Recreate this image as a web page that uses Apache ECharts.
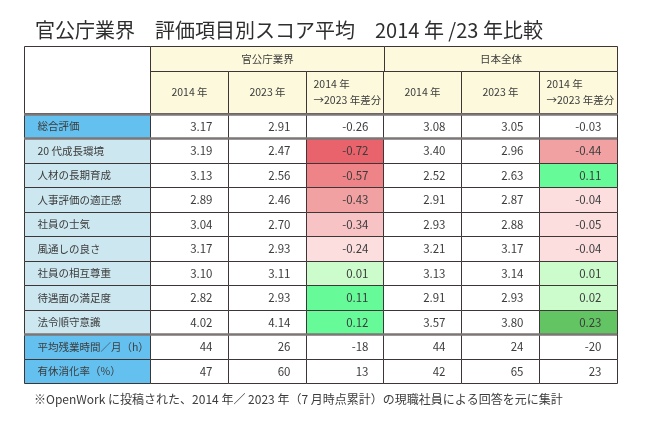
<!DOCTYPE html>
<html>
<head>
<meta charset="utf-8">
<script src="https://cdn.jsdelivr.net/npm/echarts@6/dist/echarts.min.js"></script>
<style>
  html, body { margin: 0; padding: 0; background: #fff; }
  #scoreTable { width: 650px; height: 429px; }
</style>
</head>
<body>
<div id="scoreTable"></div>
<script>
const groups = ['官公庁業界', '日本全体'];
const subHeads = ['2014 年', '2023 年', '2014 年\n→2023 年差分', '2014 年', '2023 年', '2014 年\n→2023 年差分'];
const rows = ['総合評価', '20 代成長環境', '人材の長期育成', '人事評価の適正感', '社員の士気', '風通しの良さ',
  '社員の相互尊重', '待遇面の満足度', '法令順守意識', '平均残業時間／月（h）', '有休消化率（%）'];
// total = 総合, item = 評価項目, extra = 残業/有休
const rowKind = ['total', 'item', 'item', 'item', 'item', 'item', 'item', 'item', 'item', 'extra', 'extra'];

const gov2014 = [3.17, 3.19, 3.13, 2.89, 3.04, 3.17, 3.10, 2.82, 4.02, 44, 47];
const gov2023 = [2.91, 2.47, 2.56, 2.46, 2.70, 2.93, 3.11, 2.93, 4.14, 26, 60];
const govDiff = [-0.26, -0.72, -0.57, -0.43, -0.34, -0.24, 0.01, 0.11, 0.12, -18, 13];
const jp2014 = [3.08, 3.40, 2.52, 2.91, 2.93, 3.21, 3.13, 2.91, 3.57, 44, 42];
const jp2023 = [3.05, 2.96, 2.63, 2.87, 2.88, 3.17, 3.14, 2.93, 3.80, 24, 65];
const jpDiff = [-0.03, -0.44, 0.11, -0.04, -0.05, -0.04, 0.01, 0.02, 0.23, -20, 23];

const columns = [gov2014, gov2023, govDiff, jp2014, jp2023, jpDiff];
const diffCols = [2, 5];

const LINE = '#3e3636';
const TEXT = '#3c3c3c';
const FONT = '"Noto Sans CJK JP", "Noto Sans", sans-serif';

function heat(v) {
  if (v <= -0.6) return '#e8636b';
  if (v <= -0.5) return '#ee8488';
  if (v <= -0.4) return '#f2a1a3';
  if (v <= -0.3) return '#f7c3c5';
  if (v < 0) return '#fcdedf';
  if (v < 0.05) return '#ccfccc';
  if (v < 0.2) return '#66fa99';
  return '#63c463';
}

function fmt(v, r) {
  return rowKind[r] === 'extra' ? String(v) : v.toFixed(2);
}

// band rectangle of a category cell, snapped to pixels
function band(api, x, y) {
  const c = api.coord([x, y]);
  const s = api.size([1, 1]);
  const x0 = Math.round(c[0] - s[0] / 2) + 0.5;
  const y0 = Math.round(c[1] - s[1] / 2) + 0.5;
  const x1 = Math.round(c[0] + s[0] / 2) + 0.5;
  const y1 = Math.round(c[1] + s[1] / 2) + 0.5;
  return { x: x0, y: y0, width: x1 - x0, height: y1 - y0 };
}

function cellSeries(gridIndex, data, look) {
  return {
    type: 'custom',
    xAxisIndex: gridIndex,
    yAxisIndex: gridIndex,
    data: data,
    silent: true,
    renderItem: function (params, api) {
      const x = api.value(0), y = api.value(1);
      const r = band(api, x, y);
      const o = look(x, y);
      const children = [{
        type: 'rect',
        shape: r,
        style: { fill: o.fill, stroke: LINE, lineWidth: 1 }
      }];
      if (o.text) {
        let tx = r.x + r.width / 2;
        if (o.align === 'right') tx = r.x + r.width - 16;
        if (o.align === 'left') tx = r.x + (o.pad || 13);
        children.push({
          type: 'text',
          style: {
            x: tx, y: r.y + r.height / 2 + (o.dy || 0),
            text: o.text, fill: TEXT, font: (o.size || 11.5) + 'px ' + FONT,
            align: o.align || 'center', verticalAlign: 'middle', lineHeight: o.lh || 15
          }
        });
      }
      return { type: 'group', children: children };
    }
  };
}

// thick grey separator on top of a given row, across the whole grid width
function sepSeries(gridIndex, rowIdx) {
  return {
    type: 'custom',
    xAxisIndex: gridIndex,
    yAxisIndex: gridIndex,
    z: 5,
    silent: true,
    data: rowIdx.map(function (r) { return [0, r]; }),
    renderItem: function (params, api) {
      const cs = params.coordSys;
      const c = api.coord([0, api.value(1)]);
      const s = api.size([1, 1]);
      const yTop = Math.round(c[1] - s[1] / 2) + 0.5;
      return {
        type: 'line',
        shape: { x1: cs.x, y1: yTop, x2: cs.x + cs.width, y2: yTop },
        style: { stroke: '#7c7676', lineWidth: 2.5 }
      };
    }
  };
}

const bodyData = [];
columns.forEach(function (col, c) {
  col.forEach(function (v, r) { bodyData.push([c, r]); });
});

const grids = [
  { left: 150, top: 46, width: 467, height: 25 },   // group header
  { left: 150, top: 71, width: 467, height: 42 },   // sub header
  { left: 24, top: 46, width: 126, height: 67 },    // corner
  { left: 24, top: 114, width: 126, height: 269 },  // row labels
  { left: 150, top: 114, width: 467, height: 269 }  // body
];

const xAxes = [
  { type: 'category', data: groups },
  { type: 'category', data: subHeads.map(function (s, i) { return i; }) },
  { type: 'category', data: [0] },
  { type: 'category', data: [0] },
  { type: 'category', data: columns.map(function (s, i) { return i; }) }
].map(function (a, i) { return Object.assign(a, { gridIndex: i, show: false }); });

const yAxes = [
  { type: 'category', data: [0] },
  { type: 'category', data: [0] },
  { type: 'category', data: [0] },
  { type: 'category', data: rows, inverse: true },
  { type: 'category', data: rows, inverse: true }
].map(function (a, i) { return Object.assign(a, { gridIndex: i, show: false }); });

const option = {
  animation: false,
  title: [
    {
      text: '官公庁業界　評価項目別スコア平均　2014 年 /23 年比較',
      left: 30, top: 15,
      textStyle: { fontSize: 20, fontWeight: 'normal', color: '#2e2e2e', fontFamily: FONT }
    },
    {
      text: '※OpenWork に投稿された、2014 年／ 2023 年（7 月時点累計）の現職社員による回答を元に集計',
      left: 29, top: 388,
      textStyle: { fontSize: 12, fontWeight: 'normal', color: TEXT, fontFamily: FONT }
    }
  ],
  grid: grids,
  xAxis: xAxes,
  yAxis: yAxes,
  series: [
    cellSeries(0, groups.map(function (g, i) { return [i, 0]; }), function (x) {
      return { fill: '#fcf9dc', text: groups[x], size: 10.5 };
    }),
    cellSeries(1, subHeads.map(function (g, i) { return [i, 0]; }), function (x) {
      const two = subHeads[x].indexOf('\n') >= 0;
      return { fill: '#fcf9dc', text: subHeads[x], size: 10.5, align: two ? 'left' : 'center', pad: 7, lh: 16 };
    }),
    cellSeries(2, [[0, 0]], function () {
      return { fill: '#ffffff' };
    }),
    cellSeries(3, rows.map(function (g, i) { return [0, i]; }), function (x, y) {
      return {
        fill: rowKind[y] === 'item' ? '#cce7ef' : '#64c1ef',
        text: rows[y], align: 'left', pad: 13, size: 10.5
      };
    }),
    cellSeries(4, bodyData, function (x, y) {
      const v = columns[x][y];
      const colored = diffCols.indexOf(x) >= 0 && rowKind[y] === 'item';
      return { fill: colored ? heat(v) : '#ffffff', text: fmt(v, y), align: 'right', size: 11.5 };
    }),
    sepSeries(3, [0, 1, 9]),
    sepSeries(4, [0, 1, 9])
  ]
};

const chart = echarts.init(document.getElementById('scoreTable'));
chart.setOption(option);
</script>
</body>
</html>
